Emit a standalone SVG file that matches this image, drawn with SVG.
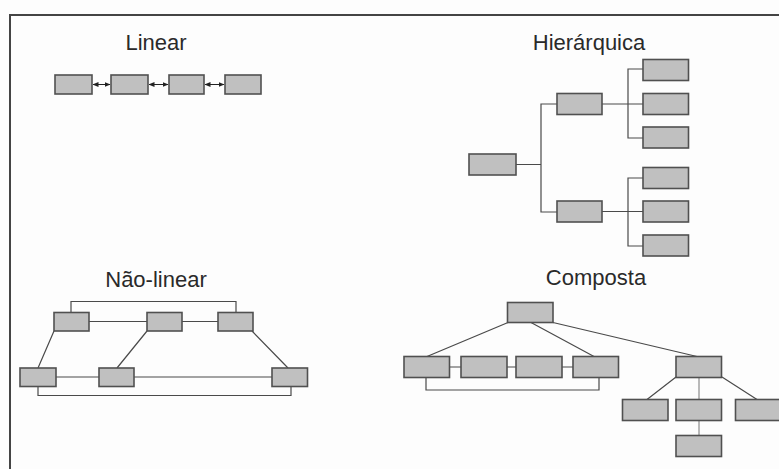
<svg xmlns="http://www.w3.org/2000/svg" width="779" height="469" viewBox="0 0 779 469">
<defs>
<marker id="ah" viewBox="0 0 6 6" refX="5.5" refY="3" markerWidth="6" markerHeight="6" markerUnits="userSpaceOnUse" orient="auto-start-reverse"><path d="M0,0.5 L6,3 L0,5.5 Z" fill="#222"/></marker>
</defs>
<style>
.t{font-family:"Liberation Sans",Arial,sans-serif;font-size:22px;fill:#2a2a2a;text-anchor:middle}
.b{fill:#c0c0c0;stroke:#505050;stroke-width:1.6}
.l{fill:none;stroke:#4a4a4a;stroke-width:1.2}
.lg{fill:none;stroke:#a8a8a8;stroke-width:1.6}
.a{fill:none;stroke:#222;stroke-width:1;marker-start:url(#ah);marker-end:url(#ah)}
</style>
<rect width="779" height="469" fill="#fdfdfd"/>
<path d="M10,469 V15 H779" fill="none" stroke="#444" stroke-width="2"/>

<text class="t" x="156" y="50">Linear</text>
<text class="t" x="589" y="50">Hierárquica</text>
<text class="t" x="156" y="287">Não-linear</text>
<text class="t" x="596" y="285">Composta</text>

<g id="connectors">
<!-- Linear -->
<line class="a" x1="93" y1="84.5" x2="110" y2="84.5"/>
<line class="a" x1="149" y1="84.5" x2="168" y2="84.5"/>
<line class="a" x1="205" y1="84.5" x2="224" y2="84.5"/>
<!-- Hierarchical -->
<path class="l" d="M516,164.5 H541 M557,104 H541 V212 H557"/>
<path class="l" d="M602,104 H643 M643,69 H628 V138 H643"/>
<path class="l" d="M602,211.5 H643 M643,178 H628 V246 H643"/>
<!-- Non-linear -->
<path class="l" d="M71,312 V301.5 H236 V312"/>
<path class="l" d="M89,321.5 H147 M182,321.5 H218"/>
<path class="l" d="M54,331 L38,368 M147,331 L117,368 M252,331 L288,368"/>
<path class="l" d="M56,377 H99"/>
<path class="l" d="M134,377 H272" stroke="#777"/>
<path class="l" d="M38,387 V395.5 H291 V387"/>
<!-- Composite -->
<path class="l" d="M508,322.5 L427,356.5 M531,322.5 L594,356.5 M553,322.5 L697,356.5"/>
<path class="l" d="M449,367 H461 M507,367 H516 M562,367 H573"/>
<path class="l" d="M426,377.5 V390 H599 V377.5"/>
<path class="l" d="M676,377 L647,399.5 M722,377 L757,399.5"/>
<path class="lg" d="M699,377.5 V399.5 M699,420.5 V435.5"/>
</g>

<g id="lin1"><rect class="b" x="55" y="75" width="37" height="19"/></g>
<g id="lin2"><rect class="b" x="111" y="75" width="37" height="19"/></g>
<g id="lin3"><rect class="b" x="169" y="75" width="35" height="19"/></g>
<g id="lin4"><rect class="b" x="225" y="75" width="36" height="19"/></g>

<g id="h-root"><rect class="b" x="469" y="154" width="47" height="21"/></g>
<g id="h-mid1"><rect class="b" x="557" y="93.5" width="45" height="21"/></g>
<g id="h-mid2"><rect class="b" x="557" y="201" width="45" height="21"/></g>
<g id="h-l1"><rect class="b" x="643" y="59.5" width="45.5" height="21"/></g>
<g id="h-l2"><rect class="b" x="643" y="93.5" width="45.5" height="21"/></g>
<g id="h-l3"><rect class="b" x="643" y="127" width="45.5" height="21"/></g>
<g id="h-l4"><rect class="b" x="643" y="167.5" width="45.5" height="21"/></g>
<g id="h-l5"><rect class="b" x="643" y="201" width="45.5" height="21"/></g>
<g id="h-l6"><rect class="b" x="643" y="235" width="45.5" height="21"/></g>

<g id="n-a"><rect class="b" x="54" y="312.5" width="35" height="18.5"/></g>
<g id="n-b"><rect class="b" x="147" y="312.5" width="35" height="18.5"/></g>
<g id="n-c"><rect class="b" x="218" y="312.5" width="35" height="18.5"/></g>
<g id="n-d"><rect class="b" x="20" y="368" width="36" height="18.5"/></g>
<g id="n-e"><rect class="b" x="99" y="368" width="35" height="18.5"/></g>
<g id="n-f"><rect class="b" x="272" y="368" width="35.5" height="18.5"/></g>

<g id="c-top"><rect class="b" x="507.5" y="302.5" width="45.5" height="20"/></g>
<g id="c-r1"><rect class="b" x="404" y="356.5" width="45.5" height="21"/></g>
<g id="c-r2"><rect class="b" x="461" y="356.5" width="46" height="21"/></g>
<g id="c-r3"><rect class="b" x="516" y="356.5" width="46" height="21"/></g>
<g id="c-r4"><rect class="b" x="573" y="356.5" width="45.5" height="21"/></g>
<g id="c-r5"><rect class="b" x="676" y="356.5" width="45.5" height="21"/></g>
<g id="c-c1"><rect class="b" x="622.5" y="399.5" width="45.5" height="21"/></g>
<g id="c-c2"><rect class="b" x="676" y="399.5" width="45.5" height="21"/></g>
<g id="c-c3"><rect class="b" x="735.5" y="399.5" width="46" height="21"/></g>
<g id="c-c4"><rect class="b" x="676" y="435.5" width="45.5" height="21"/></g>
</svg>
